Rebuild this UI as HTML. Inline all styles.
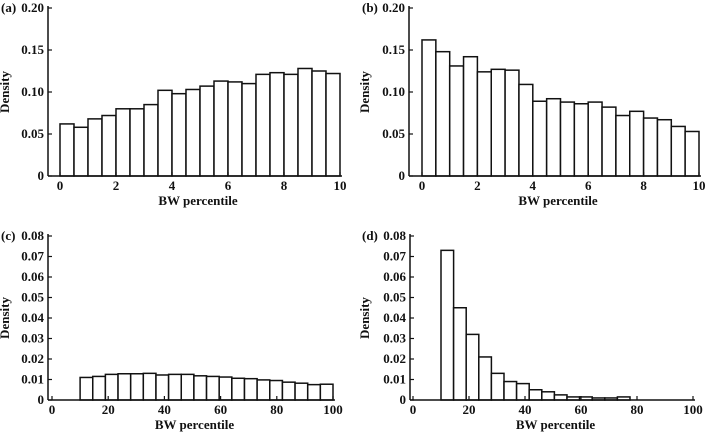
<!DOCTYPE html>
<html><head><meta charset="utf-8"><style>
body{margin:0;background:#fff;}
svg{display:block;font-family:"Liberation Serif",serif;}
text{fill:#111;}
.tk{font-size:13px;font-weight:bold;}
.lab{font-size:13px;font-weight:bold;}
</style></head><body>
<svg id="fig" width="709" height="434" viewBox="0 0 709 434"></svg>
<script>
const aValues=[0.062,0.058,0.068,0.072,0.080,0.080,0.085,0.102,0.098,0.103,0.107,0.113,0.112,0.110,0.121,0.123,0.121,0.128,0.125,0.122];
const bValues=[0.162,0.148,0.131,0.142,0.124,0.127,0.126,0.109,0.089,0.092,0.088,0.086,0.088,0.082,0.072,0.077,0.069,0.067,0.059,0.053];
const cValues=[0.011,0.0115,0.0125,0.0128,0.0128,0.013,0.0122,0.0125,0.0125,0.0118,0.0115,0.0112,0.0106,0.0104,0.0098,0.0095,0.0087,0.0082,0.0075,0.0077];
const dValues=[0.073,0.045,0.032,0.021,0.013,0.009,0.008,0.005,0.004,0.0025,0.0015,0.0015,0.001,0.001,0.0015];
const abXTicks=[0,2,4,6,8,10];
const abYTicks=[0,0.05,0.10,0.15,0.20];
const abYLabels=["0","0.05","0.10","0.15","0.20"];
const cdXTicks=[0,20,40,60,80,100];
const cdYTicks=[0,0.01,0.02,0.03,0.04,0.05,0.06,0.07,0.08];
const cdYLabels=["0","0.01","0.02","0.03","0.04","0.05","0.06","0.07","0.08"];

const NS="http://www.w3.org/2000/svg";
const svg=document.getElementById('fig');
function mk(tag,attrs,parent){const e=document.createElementNS(NS,tag);for(const k in attrs)e.setAttribute(k,attrs[k]);(parent||svg).appendChild(e);return e;}

function panel(p){
  const g=mk('g',{});
  
  
  const xs=v=>p.x0+(v-p.xmin)/(p.xmax-p.xmin)*(p.x1-p.x0);
  const ys=v=>p.y0-(v/p.ymax)*(p.y0-p.y1);
  p.values.forEach((v,i)=>{
    const a=p.start+i*p.bw, b=a+p.bw;
    const r=mk('rect',{x:xs(a),y:ys(v),width:xs(b)-xs(a),height:p.y0-ys(v),fill:'#fff',stroke:'#111','stroke-width':1.5},g);
    
    
  });
  const ya=mk('line',{x1:p.ax,y1:p.y1-2,x2:p.ax,y2:p.y0,stroke:'#111','stroke-width':1.5},g);
  
  
  const xa=mk('line',{x1:p.ax,y1:p.y0,x2:p.x1+2,y2:p.y0,stroke:'#111','stroke-width':1.5},g);
  
  
  p.yTicks.forEach((v,i)=>{
    mk('line',{x1:p.ax,y1:ys(v),x2:p.ax+4,y2:ys(v),stroke:'#111','stroke-width':1.2},g);
    const t=mk('text',{x:p.ax-4,y:ys(v)+4,'text-anchor':'end',class:'tk'},g);
    t.textContent=p.yLabels[i];
    
    
  });
  p.xTicks.forEach(v=>{
    mk('line',{x1:xs(v),y1:p.y0,x2:xs(v),y2:p.y0-4,stroke:'#111','stroke-width':1.2},g);
    const t=mk('text',{x:xs(v),y:p.y0+14,'text-anchor':'middle',class:'tk'},g);
    t.textContent=String(v);
    
    
  });
  const pl=mk('text',{x:p.lx,y:p.y1+4,class:'lab','font-weight':'normal'},g);
  pl.textContent='('+p.id+')';
  
  
  const cy=(p.y0+p.y1)/2;
  const yt=mk('text',{x:p.yx,y:cy,'text-anchor':'middle',class:'lab',transform:'rotate(-90 '+p.yx+' '+cy+')'},g);
  yt.textContent='Density';
  
  
  const xt=mk('text',{x:(p.ax+p.x1)/2+4,y:p.y0+29,'text-anchor':'middle',class:'lab'},g);
  xt.textContent='BW percentile';
  
  
}
panel({id:'a',values:aValues,start:0,bw:0.5,xmin:0,xmax:10,x0:60,x1:340,ax:48,y0:176,y1:8,ymax:0.20,yTicks:abYTicks,yLabels:abYLabels,xTicks:abXTicks,lx:1,yx:9});
panel({id:'b',values:bValues,start:0,bw:0.5,xmin:0,xmax:10,x0:422,x1:699,ax:409,y0:176,y1:8,ymax:0.20,yTicks:abYTicks,yLabels:abYLabels,xTicks:abXTicks,lx:362,yx:369});
panel({id:'c',values:cValues,start:10,bw:4.5,xmin:0,xmax:100,x0:52,x1:333,ax:48,y0:400,y1:236,ymax:0.08,yTicks:cdYTicks,yLabels:cdYLabels,xTicks:cdXTicks,lx:1,yx:9});
panel({id:'d',values:dValues,start:10,bw:4.5,xmin:0,xmax:100,x0:413,x1:693,ax:410,y0:400,y1:236,ymax:0.08,yTicks:cdYTicks,yLabels:cdYLabels,xTicks:cdXTicks,lx:362,yx:369});
</script>
</body></html>
